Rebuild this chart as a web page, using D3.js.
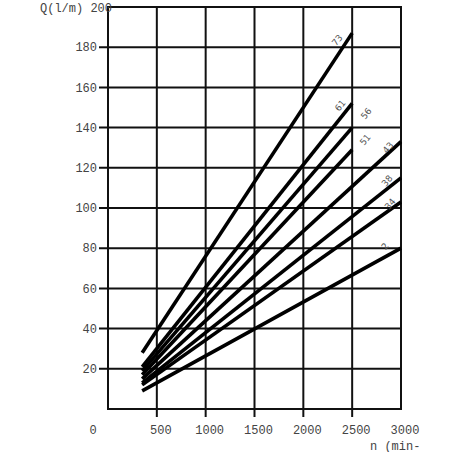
<!DOCTYPE html>
<html>
<head>
<meta charset="utf-8">
<script src="https://cdn.jsdelivr.net/npm/d3@7"></script>
<style>
  html, body { margin: 0; padding: 0; background: #fff; }
  svg { display: block; }
</style>
</head>
<body>
<div id="chart"></div>
<script>
// ---- data ----
const seriesNames = ["73", "61", "56", "51", "43", "38", "34", "2"];
const startN = [350, 350, 350, 350, 350, 350, 350, 350];
const startQ = [28, 21, 19, 17, 15, 13, 12, 9];
const endN   = [2500, 2500, 2500, 2500, 3000, 3000, 3000, 3000];
const endQ   = [187, 152, 140, 129, 133, 115, 103, 80];
const xTicks = [0, 500, 1000, 1500, 2000, 2500, 3000];
const yTicks = [20, 40, 60, 80, 100, 120, 140, 160, 180, 200];
// label offsets in px relative to line end (style)
const labelDx = [-15, -12, 14, 13, -13, -14, -11, -16];
const labelDy = [7, 2, -14, -10, 6, 3, 2, -2];

const W = 452, H = 452;
const svg = d3.select("#chart").append("svg").attr("width", W).attr("height", H);
svg.append("defs").append("clipPath").attr("id", "clipAll")
  .append("rect").attr("x", 0).attr("y", 0).attr("width", 420).attr("height", H);
const root = svg.append("g").attr("clip-path", "url(#clipAll)");

const x = d3.scaleLinear().domain([0, 3000]).range([108, 401]);
const y = d3.scaleLinear().domain([0, 200]).range([409, 7]);

const mono = "'Liberation Mono', 'DejaVu Sans Mono', monospace";

// gridlines
root.append("g").selectAll("line.v").data(xTicks.filter(d => d > 0 && d < 3000)).join("line")
  .attr("x1", d => x(d)).attr("x2", d => x(d)).attr("y1", y(200)).attr("y2", y(0) + 8)
  .attr("stroke", "#111").attr("stroke-width", 2);
root.append("g").selectAll("line.h").data(yTicks.filter(d => d < 200)).join("line")
  .attr("x1", x(0) - 9).attr("x2", x(3000)).attr("y1", d => y(d)).attr("y2", d => y(d))
  .attr("stroke", "#111").attr("stroke-width", 2);

// frame
root.append("rect").attr("x", x(0)).attr("y", y(200))
  .attr("width", x(3000) - x(0)).attr("height", y(0) - y(200))
  .attr("fill", "none").attr("stroke", "#111").attr("stroke-width", 2);

// y tick labels
root.append("g").selectAll("text").data(yTicks.filter(d => d < 200)).join("text")
  .attr("x", x(0) - 11).attr("y", d => y(d)).attr("dy", "0.35em")
  .attr("text-anchor", "end").attr("font-family", mono).attr("font-size", 12)
  .attr("fill", "#444").text(d => d);
// top label
root.append("text").attr("x", 40).attr("y", y(200) + 5)
  .attr("font-family", mono).attr("font-size", 12).attr("fill", "#444")
  .text("Q(l/m) 200");

// x tick labels
root.append("g").selectAll("text").data(xTicks).join("text")
  .attr("x", d => d === 0 ? 93 : x(d) + 4).attr("y", 434)
  .attr("text-anchor", "middle").attr("font-family", mono).attr("font-size", 12)
  .attr("fill", "#444").text(d => d);
root.append("text").attr("x", 370).attr("y", 450)
  .attr("font-family", mono).attr("font-size", 12).attr("fill", "#444")
  .text("n (min-1)");

// data lines
const lines = seriesNames.map((name, i) => ({
  name, pts: [[startN[i], startQ[i]], [endN[i], endQ[i]]], i
}));
const lineGen = d3.line().x(d => x(d[0])).y(d => y(d[1]));
root.append("g").selectAll("path").data(lines).join("path")
  .attr("d", d => lineGen(d.pts))
  .attr("fill", "none").attr("stroke", "#000").attr("stroke-width", 3.6);

// line labels
root.append("g").selectAll("text").data(lines).join("text")
  .attr("transform", d => `translate(${x(d.pts[1][0]) + labelDx[d.i]},${y(d.pts[1][1]) + labelDy[d.i]}) rotate(-50)`)
  .attr("text-anchor", "middle").attr("dy", "0.35em")
  .attr("font-family", "'DejaVu Sans', sans-serif").attr("font-size", 9)
  .attr("fill", "#555").text(d => d.name);
</script>
</body>
</html>
